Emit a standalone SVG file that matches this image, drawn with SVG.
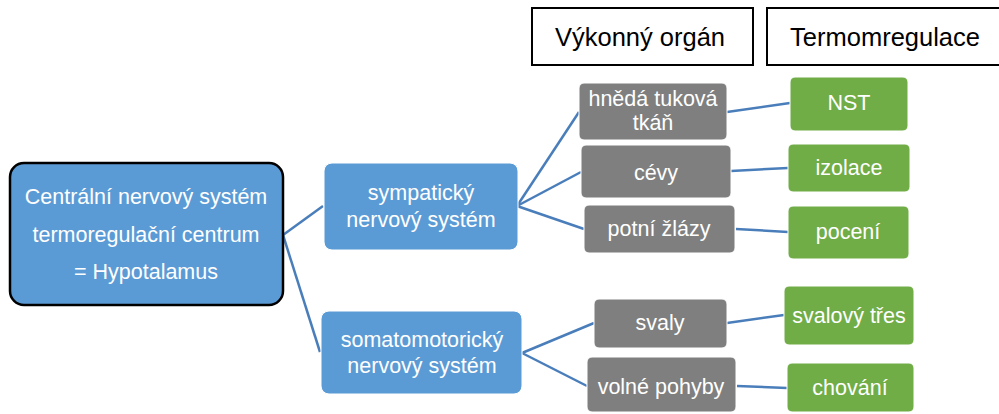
<svg xmlns="http://www.w3.org/2000/svg" width="999" height="414" viewBox="0 0 999 414">
<style>
text{font-family:"Liberation Sans",Arial,sans-serif;fill:#fff;font-size:21.5px;text-anchor:middle;dominant-baseline:central}
.hdr text{fill:#000;font-size:25.5px}
.hdr rect{fill:#fff;stroke:#000;stroke-width:2}
.blue{fill:#5B9BD5;stroke:#fff;stroke-width:1}
.gray{fill:#7F7F7F;stroke:#fff;stroke-width:1}
.green{fill:#70AD47;stroke:#fff;stroke-width:1}
#conn line{stroke:#4A7EBB;stroke-width:2.5}
</style>
<rect width="999" height="414" fill="#fff"/>
<g id="conn">
<line x1="283" y1="235" x2="323" y2="206"/>
<line x1="283" y1="235" x2="320" y2="352"/>
<line x1="517" y1="206" x2="579" y2="112"/>
<line x1="517" y1="206" x2="581" y2="172"/>
<line x1="517" y1="206" x2="584" y2="229"/>
<line x1="522" y1="353" x2="594" y2="323"/>
<line x1="522" y1="353" x2="587" y2="386"/>
<line x1="727" y1="112" x2="790" y2="103"/>
<line x1="731" y1="171" x2="788" y2="168"/>
<line x1="736" y1="229" x2="788" y2="232"/>
<line x1="727" y1="323" x2="784" y2="315"/>
<line x1="737" y1="386" x2="787" y2="388"/>
</g>
<g id="hdr1" class="hdr"><rect x="532" y="8" width="221" height="57"/><text x="640" y="37">Výkonný orgán</text></g>
<g id="hdr2" class="hdr"><rect x="767" y="8" width="240" height="57"/><text x="885" y="37">Termomregulace</text></g>
<g id="cns"><rect x="10" y="163" width="273" height="142" rx="14" fill="#5B9BD5" stroke="#000" stroke-width="2.5"/>
<text x="146" y="197">Centrální nervový systém</text><text x="146" y="235">termoregulační centrum</text><text x="146" y="272">= Hypotalamus</text></g>
<g id="symp"><rect class="blue" x="324" y="163" width="194" height="87" rx="8"/><text x="421" y="193">sympatický</text><text x="421" y="220">nervový systém</text></g>
<g id="soma"><rect class="blue" x="321" y="311" width="201" height="83" rx="8"/><text x="422" y="340">somatomotorický</text><text x="422" y="366">nervový systém</text></g>
<g id="hneda"><rect class="gray" x="579" y="83" width="148" height="57" rx="5"/><text x="653" y="99">hnědá tuková</text><text x="653" y="123">tkáň</text></g>
<g id="cevy"><rect class="gray" x="581" y="145" width="150" height="53" rx="5"/><text x="656" y="173">cévy</text></g>
<g id="potni"><rect class="gray" x="584" y="205" width="151" height="48" rx="5"/><text x="659" y="229">potní žlázy</text></g>
<g id="svaly"><rect class="gray" x="594" y="299" width="133" height="49" rx="5"/><text x="660" y="323">svaly</text></g>
<g id="volne"><rect class="gray" x="587" y="357" width="149" height="55" rx="5"/><text x="661" y="387">volné pohyby</text></g>
<g id="nst"><rect class="green" x="790" y="77" width="118" height="54" rx="5"/><text x="849" y="103">NST</text></g>
<g id="izolace"><rect class="green" x="788" y="144" width="122" height="48" rx="5"/><text x="849" y="168">izolace</text></g>
<g id="poceni"><rect class="green" x="788" y="206" width="121" height="53" rx="5"/><text x="848" y="232">pocení</text></g>
<g id="tres"><rect class="green" x="784" y="286" width="130" height="59" rx="5"/><text x="849" y="316">svalový třes</text></g>
<g id="chovani"><rect class="green" x="787" y="363" width="127" height="49" rx="5"/><text x="850" y="388">chování</text></g>
</svg>
